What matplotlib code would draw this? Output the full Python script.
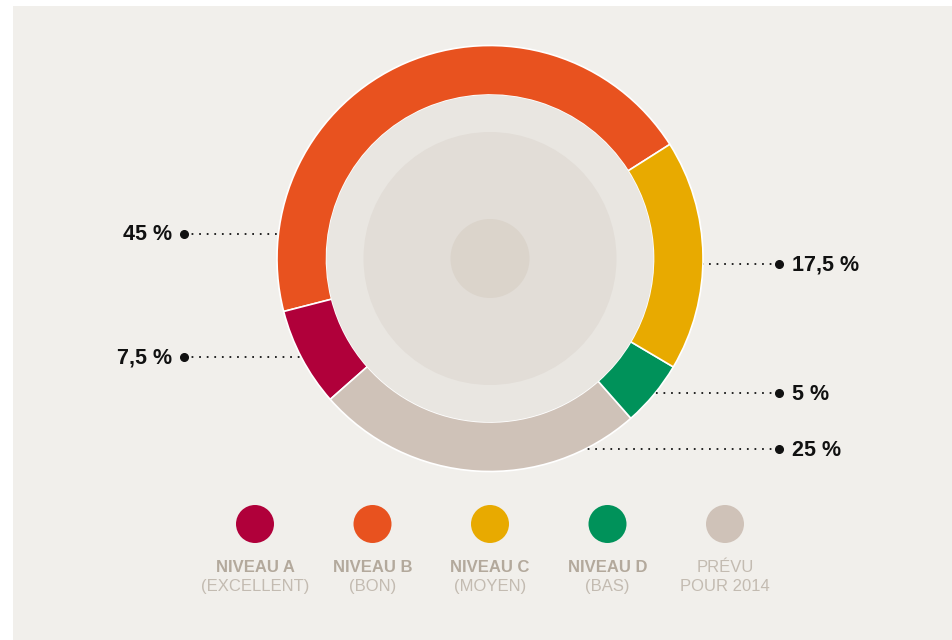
import matplotlib.pyplot as plt
from matplotlib.patches import Circle, Rectangle

# data (counterclockwise from the orange/yellow border)
shares = [45, 7.5, 25, 5, 17.5]
share_labels = ['45 %', '7,5 %', '25 %', '5 %', '17,5 %']
slice_colors = ['#e8521f', '#b0003a', '#cfc2b8', '#00925a', '#e8aa00']

legend_titles = ['NIVEAU A', 'NIVEAU B', 'NIVEAU C', 'NIVEAU D', 'PRÉVU']
legend_subtitles = ['(EXCELLENT)', '(BON)', '(MOYEN)', '(BAS)', 'POUR 2014']
legend_colors = ['#b0003a', '#e8521f', '#e8aa00', '#00925a', '#cfc2b8']

W, H = 952, 640
cx, cy = 490, H - 258.5
R = 213

fig = plt.figure(figsize=(W / 100, H / 100), dpi=100)
fig.patch.set_facecolor('white')
ax = fig.add_axes([0, 0, 1, 1])

# panel background
ax.add_patch(Rectangle((13, 0), W - 13, H - 6, facecolor='#f1efeb', edgecolor='none', zorder=0))

# ring
ax.pie(shares, colors=slice_colors, startangle=32.4, counterclock=True,
       radius=R, center=(cx, cy), frame=True,
       wedgeprops=dict(width=R - 163.5, edgecolor='white', linewidth=1.2))
ax.set_xlim(0, W)
ax.set_ylim(0, H)
ax.set_aspect('equal')
ax.axis('off')

# inner discs
ax.add_patch(Circle((cx, cy), 163.5, facecolor='#e9e6e1', edgecolor='none', zorder=3))
ax.add_patch(Circle((cx, cy), 126.5, facecolor='#e2ddd7', edgecolor='none', zorder=4))
ax.add_patch(Circle((cx, cy), 39.5, facecolor='#dbd4cb', edgecolor='none', zorder=5))

sans = ['Liberation Sans', 'DejaVu Sans']

# leader lines with labels: (label index, y of line in image px, side)
leaders = [(0, 234, 'left'), (1, 357, 'left'), (4, 264, 'right'), (3, 393, 'right'), (2, 449, 'right')]
for idx, ypix, side in leaders:
    y = H - ypix
    dx = (R ** 2 - (y - cy) ** 2) ** 0.5
    if side == 'left':
        x_ring, x_dot = cx - dx, 184
        ax.text(x_dot - 12, y - 1, share_labels[idx], ha='right', va='center',
                fontsize=15.5, fontweight='bold', color='#111111', family=sans)
    else:
        x_ring, x_dot = cx + dx, 779
        ax.text(x_dot + 13, y - 1, share_labels[idx], ha='left', va='center',
                fontsize=15.5, fontweight='bold', color='#111111', family=sans)
    ax.plot([x_dot, x_ring], [y, y], color='#222222', lw=1.4, linestyle=(0, (0.9, 3.0)), zorder=2)
    ax.plot([x_dot], [y], 'o', color='#111111', markersize=5.5, zorder=6)

# legend
for i, col in enumerate(legend_colors):
    lx = 255 + i * 117.5
    ax.add_patch(Circle((lx, H - 524), 19, facecolor=col, edgecolor='none', zorder=3))
    if i < 4:
        ax.text(lx, H - 567.5, legend_titles[i], ha='center', va='center', fontsize=12,
                fontweight='bold', color='#b3a99c', family=sans)
    else:
        ax.text(lx, H - 567.5, legend_titles[i], ha='center', va='center', fontsize=12,
                color='#c3bbb1', family=sans)
    ax.text(lx, H - 586.5, legend_subtitles[i], ha='center', va='center', fontsize=12,
            color='#c3bbb1', family=sans)

fig.savefig('out.png', dpi=100, facecolor=fig.get_facecolor())
